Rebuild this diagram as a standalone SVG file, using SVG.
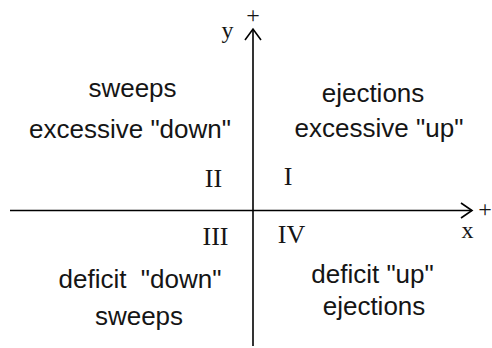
<svg xmlns="http://www.w3.org/2000/svg" width="492" height="348" viewBox="0 0 492 348">
<style>
.s{font-family:"Liberation Sans",Arial,sans-serif;font-size:26px;fill:#151515;text-anchor:middle;white-space:pre}
.r{font-family:"Liberation Serif","Times New Roman",serif;font-size:26px;fill:#151515;text-anchor:middle}
.p{font-family:"Liberation Serif","Times New Roman",serif;font-size:24px;fill:#151515;text-anchor:middle}
.v{font-family:"Liberation Serif","Times New Roman",serif;font-size:24px;fill:#151515;text-anchor:middle}
.ax{stroke:#000;stroke-width:1.6;fill:none}
</style>
<rect width="492" height="348" fill="#fff"/>
<g id="connectors">
<path class="ax" d="M253,346 V29"/>
<path class="ax" d="M245,40 L253,29 L261,40"/>
<path class="ax" d="M10,210.5 H472"/>
<path class="ax" d="M461,203 L472,210.5 L461,218"/>
</g>
<g id="axis-labels">
<text class="p" x="253" y="22.5">+</text>
<text class="v" x="227.5" y="38">y</text>
<text class="p" x="485" y="217">+</text>
<text class="v" x="467.5" y="238">x</text>
</g>
<g id="q1"><text class="r" x="288" y="185">I</text><text class="s" x="373" y="102">ejections</text><text class="s" x="379" y="137">excessive "up"</text></g>
<g id="q2"><text class="r" x="213.5" y="187">II</text><text class="s" x="132.5" y="97">sweeps</text><text class="s" x="130" y="138">excessive "down"</text></g>
<g id="q3"><text class="r" x="215.5" y="245">III</text><text class="s" x="140" y="288" xml:space="preserve">deficit  "down"</text><text class="s" x="139" y="325">sweeps</text></g>
<g id="q4"><text class="r" x="291.5" y="243">IV</text><text class="s" x="372.5" y="283">deficit "up"</text><text class="s" x="374" y="315">ejections</text></g>
</svg>
